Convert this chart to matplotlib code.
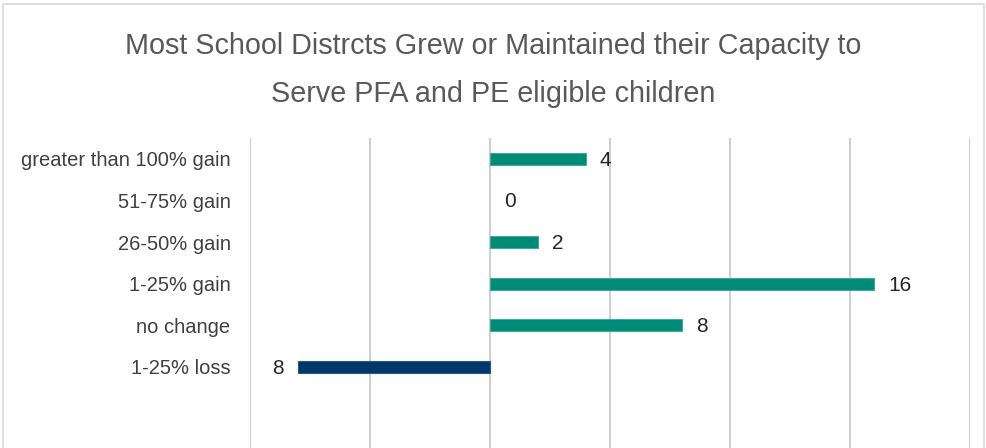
import matplotlib
matplotlib.use("Agg")
import matplotlib.pyplot as plt
from matplotlib.patches import Rectangle

plt.rcParams['font.family'] = ['Liberation Sans', 'DejaVu Sans']

# data (top to bottom as shown)
categories = ["greater than 100% gain", "51-75% gain", "26-50% gain",
              "1-25% gain", "no change", "1-25% loss"]
values = [4, 0, 2, 16, 8, -8]
bar_colors = ["#008a78", "#008a78", "#008a78", "#008a78", "#008a78", "#00386a"]
edge_colors = ["#45a898", "#45a898", "#45a898", "#45a898", "#45a898", "#2e5785"]

fig = plt.figure(figsize=(9.87, 4.48), dpi=100)
fig.patches.append(Rectangle((0.003, -0.01), 0.994, 1.0, transform=fig.transFigure,
                             fill=False, edgecolor="#d9d9d9", linewidth=1.2))

ax = fig.add_axes([0.2533, 0.0, 0.7295, 0.692])

ypos = list(range(len(categories)))[::-1]
lws = [0.8 if v != 0 else 0 for v in values]
ax.barh(ypos, values, height=0.29, color=bar_colors, edgecolor=edge_colors,
        linewidth=lws, zorder=3)

for y, v in zip(ypos, values):
    off = 10 if v >= 0 else -10
    ha = 'left' if v >= 0 else 'right'
    ax.annotate(str(abs(v)), xy=(v, y), xytext=(off, -1), textcoords='offset points',
                ha=ha, va='center', fontsize=15, color='#262626')

ax.set_xlim(-10, 20)
ax.set_ylim(-1.95, 5.505)
ax.set_xticks([-10, -5, 0, 5, 10, 15, 20])
ax.set_xticklabels([])
ax.set_yticks(ypos)
ax.set_yticklabels(categories, fontsize=14.5, color='#404040')
ax.tick_params(axis='both', length=0)
ax.tick_params(axis='y', pad=14)
ax.grid(axis='x', color='#d0d0d0', linewidth=1.5, zorder=0)
ax.set_axisbelow(True)
for s in ax.spines.values():
    s.set_visible(False)

fig.text(0.5, 0.843, "Most School Distrcts Grew or Maintained their Capacity to\nServe PFA and PE eligible children",
         ha='center', va='center', fontsize=20.7, color='#595959', linespacing=1.9)

fig.savefig("out.png", dpi=100)
